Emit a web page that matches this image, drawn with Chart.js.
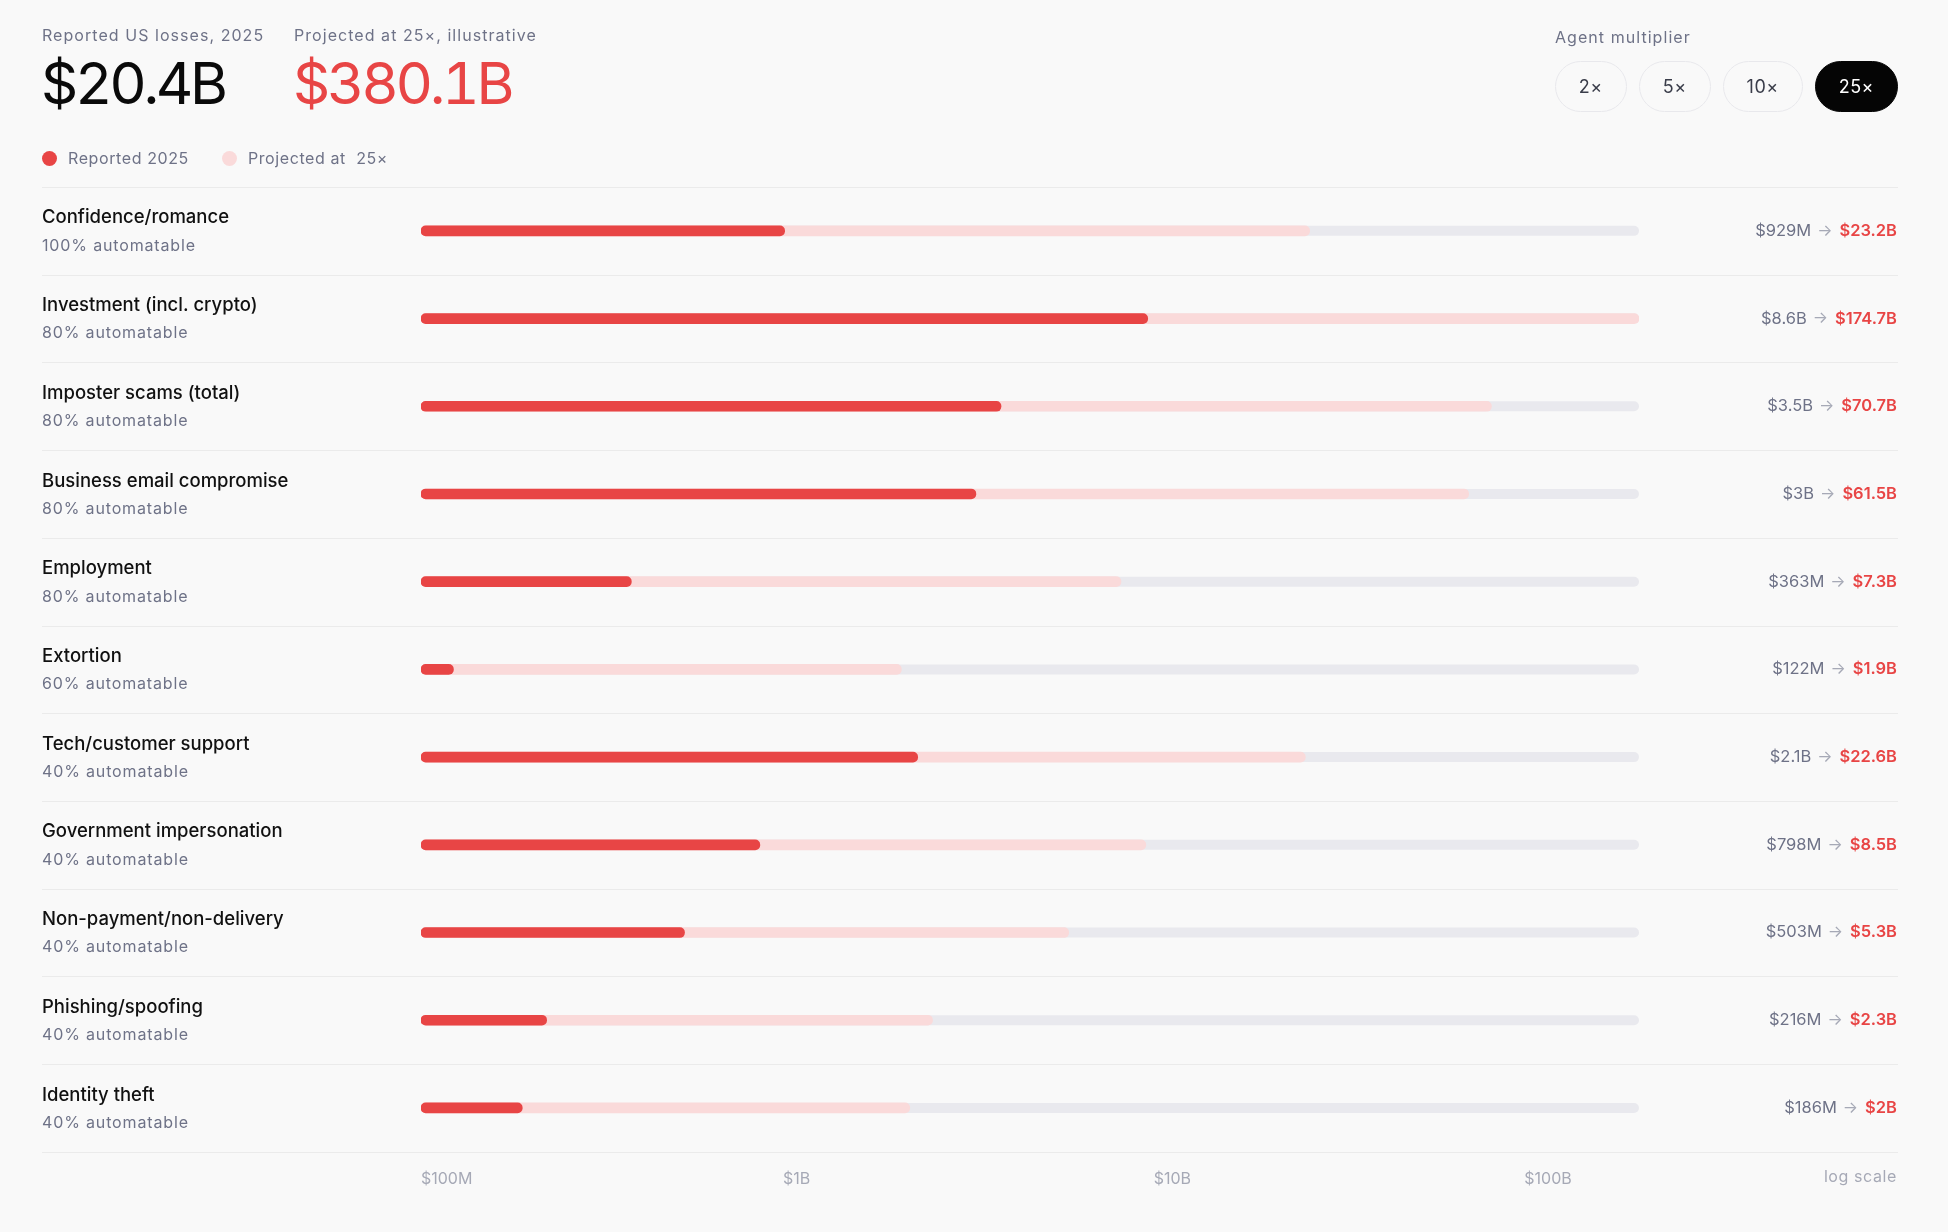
<!DOCTYPE html>
<html>
<head>
<meta charset="utf-8">
<script src="https://cdn.jsdelivr.net/npm/chart.js@4.4.1/dist/chart.umd.min.js"></script>
<style>
  html, body { margin: 0; padding: 0; background: #f9f9f9; width: 1948px; height: 1232px; overflow: hidden; font-family: Inter, "Noto Sans", sans-serif; }
  #wrap { position: relative; width: 1948px; height: 1232px; }
  #c { position: absolute; left: 0; top: 0; }
  .abs { position: absolute; white-space: nowrap; }
  .lbl { font-size: 16px; line-height: 16px; color: #6e7287; letter-spacing: 1.05px; }
  .big { font-size: 58px; line-height: 58px; letter-spacing: -3.3px; font-weight: 400; font-feature-settings: 'tnum' 1; }
  .legend { font-size: 16px; line-height: 16px; color: #6e7287; letter-spacing: 0.6px; display: flex; align-items: center; }
  .dot { width: 15px; height: 15px; border-radius: 50%; display: inline-block; margin-right: 11px; }
  .btns { display: flex; gap: 12px; }
  .btn { height: 49px; border: 1px solid #e8e8ec; border-radius: 26px; padding: 0 23px; font-size: 18px; color: #3a3d4a; display: flex; align-items: center; justify-content: center; letter-spacing: 0.5px; }
  .btn.on { background: #050505; border-color: #050505; color: #ffffff; }
</style>
</head>
<body>
<div id="wrap">
  <canvas id="c" width="1948" height="1232"></canvas>
  <div class="abs lbl" style="left:42px; top:27px;">Reported US losses, 2025</div>
  <div class="abs big" id="totRep" style="left:41px; top:54px; color:#0a0a0a;"></div>
  <div class="abs lbl" style="left:294px; top:27px;">Projected at 25×, illustrative</div>
  <div class="abs big" id="totProj" style="left:293px; top:54px; color:#e84545;"></div>
  <div class="abs legend" style="left:42px; top:150px;">
    <span class="dot" style="background:#e84545;"></span><span>Reported 2025</span>
    <span class="dot" style="background:#fadada; margin-left:33px;"></span><span>Projected at&nbsp; 25×</span>
  </div>
  <div class="abs lbl" style="left:1555px; top:29px;">Agent multiplier</div>
  <div class="abs btns" id="btns" style="right:50px; top:61px;"></div>
</div>
<script>
const categories = ['Confidence/romance', 'Investment (incl. crypto)', 'Imposter scams (total)', 'Business email compromise', 'Employment', 'Extortion', 'Tech/customer support', 'Government impersonation', 'Non-payment/non-delivery', 'Phishing/spoofing', 'Identity theft'];
const automatable = [100, 80, 80, 80, 80, 60, 40, 40, 40, 40, 40];
const reported = [929e6, 8.6e9, 3.5e9, 3e9, 363e6, 122e6, 2.1e9, 798e6, 503e6, 216e6, 186e6];
const projected = [23.2e9, 174.7e9, 70.7e9, 61.5e9, 7.3e9, 1.9e9, 22.6e9, 8.5e9, 5.3e9, 2.3e9, 2e9];
const totalReported = '$20.4B';
const totalProjected = '$380.1B';
const tickValues = [1e8, 1e9, 1e10, 1e11];
const tickLabels = ['$100M', '$1B', '$10B', '$100B'];
const multipliers = ['2×', '5×', '10×', '25×'];
const activeMultiplier = '25×';

const RED = '#e84545', PINK = '#fadada', TRACK = '#e9e9ee';
const TEXT = '#111111', MUTED = '#6e7287', FAINT = '#a6a9b6', LINE = '#ebebeb';
const FONT = 'Inter, "Noto Sans", sans-serif';

document.getElementById('totRep').textContent = totalReported;
document.getElementById('totProj').textContent = totalProjected;
const btns = document.getElementById('btns');
multipliers.forEach(m => {
  const b = document.createElement('div');
  b.className = 'btn' + (m === activeMultiplier ? ' on' : '');
  b.textContent = m;
  btns.appendChild(b);
});

function fmt(v) {
  if (v >= 1e9) return '$' + (v / 1e9) + 'B';
  return '$' + (v / 1e6) + 'M';
}

const xMax = Math.max(...projected);

const rowPlugin = {
  id: 'rows',
  beforeDatasetsDraw(chart) {
    const ctx = chart.ctx;
    const ys = chart.scales.y;
    const area = chart.chartArea;
    const n = categories.length;
    const band = (ys.bottom - ys.top) / n;
    ctx.save();
    ctx.strokeStyle = LINE;
    ctx.lineWidth = 1;
    for (let i = 0; i <= n; i++) {
      const y = Math.round(ys.top + i * band) + 0.5;
      ctx.beginPath();
      ctx.moveTo(42, y);
      ctx.lineTo(1898, y);
      ctx.stroke();
    }
    const meta = chart.getDatasetMeta(0);
    meta.data.forEach(bar => {
      const h = bar.height;
      ctx.fillStyle = TRACK;
      ctx.beginPath();
      ctx.roundRect(area.left, bar.y - h / 2, area.right - area.left, h, h / 2);
      ctx.fill();
    });
    ctx.restore();
  },
  afterDraw(chart) {
    const ctx = chart.ctx;
    const ys = chart.scales.y;
    ctx.save();
    ctx.textBaseline = 'middle';
    categories.forEach((c, i) => {
      const y = ys.getPixelForValue(i);
      ctx.textAlign = 'left';
      ctx.fillStyle = TEXT;
      ctx.font = '500 18.5px ' + FONT;
      ctx.fillText(c, 42, y - 13);
      ctx.fillStyle = MUTED;
      ctx.font = '400 16px ' + FONT;
      ctx.letterSpacing = '0.85px';
      ctx.fillText(automatable[i] + '% automatable', 42, y + 15);
      ctx.letterSpacing = '0px';
      // right values
      ctx.textAlign = 'right';
      let x = 1897;
      ctx.font = '600 16.5px ' + FONT;
      ctx.fillStyle = RED;
      const pTxt = fmt(projected[i]);
      ctx.fillText(pTxt, x, y);
      x -= ctx.measureText(pTxt).width + 7;
      ctx.font = '400 16px ' + FONT;
      ctx.fillStyle = FAINT;
      ctx.fillText('→', x, y);
      x -= ctx.measureText('→').width + 6;
      ctx.font = '400 16.5px ' + FONT;
      ctx.fillStyle = MUTED;
      ctx.fillText(fmt(reported[i]), x, y);
    });
    ctx.textAlign = 'right';
    ctx.font = '400 16px ' + FONT;
    ctx.fillStyle = FAINT;
    ctx.letterSpacing = '0.6px';
    ctx.fillText('log scale', 1897, 1177);
    ctx.restore();
  }
};

new Chart(document.getElementById('c'), {
  type: 'bar',
  data: {
    labels: categories,
    datasets: [
      { label: 'Reported 2025', data: reported, backgroundColor: RED, grouped: false, barThickness: 10, borderRadius: 5, borderSkipped: false },
      { label: 'Projected at 25×', data: projected, backgroundColor: PINK, grouped: false, barThickness: 10, borderRadius: 5, borderSkipped: false }
    ]
  },
  options: {
    indexAxis: 'y',
    responsive: false,
    animation: false,
    devicePixelRatio: 1,
    layout: { padding: { left: 421, right: 309, top: 187, bottom: 33 } },
    plugins: { legend: { display: false }, tooltip: { enabled: false } },
    scales: {
      y: { type: 'category', display: false, offset: true },
      x: {
        type: 'logarithmic',
        min: tickValues[0],
        max: xMax,
        grid: { display: false },
        border: { display: false },
        afterBuildTicks: s => { s.ticks = tickValues.concat([xMax]).map(v => ({ value: v })); },
        ticks: {
          autoSkip: false,
          maxRotation: 0,
          align: 'inner',
          padding: 10,
          color: FAINT,
          font: { family: FONT, size: 16 },
          callback: (v, i) => tickLabels[i] !== undefined ? tickLabels[i] : ''
        }
      }
    }
  },
  plugins: [rowPlugin]
});
</script>
</body>
</html>
